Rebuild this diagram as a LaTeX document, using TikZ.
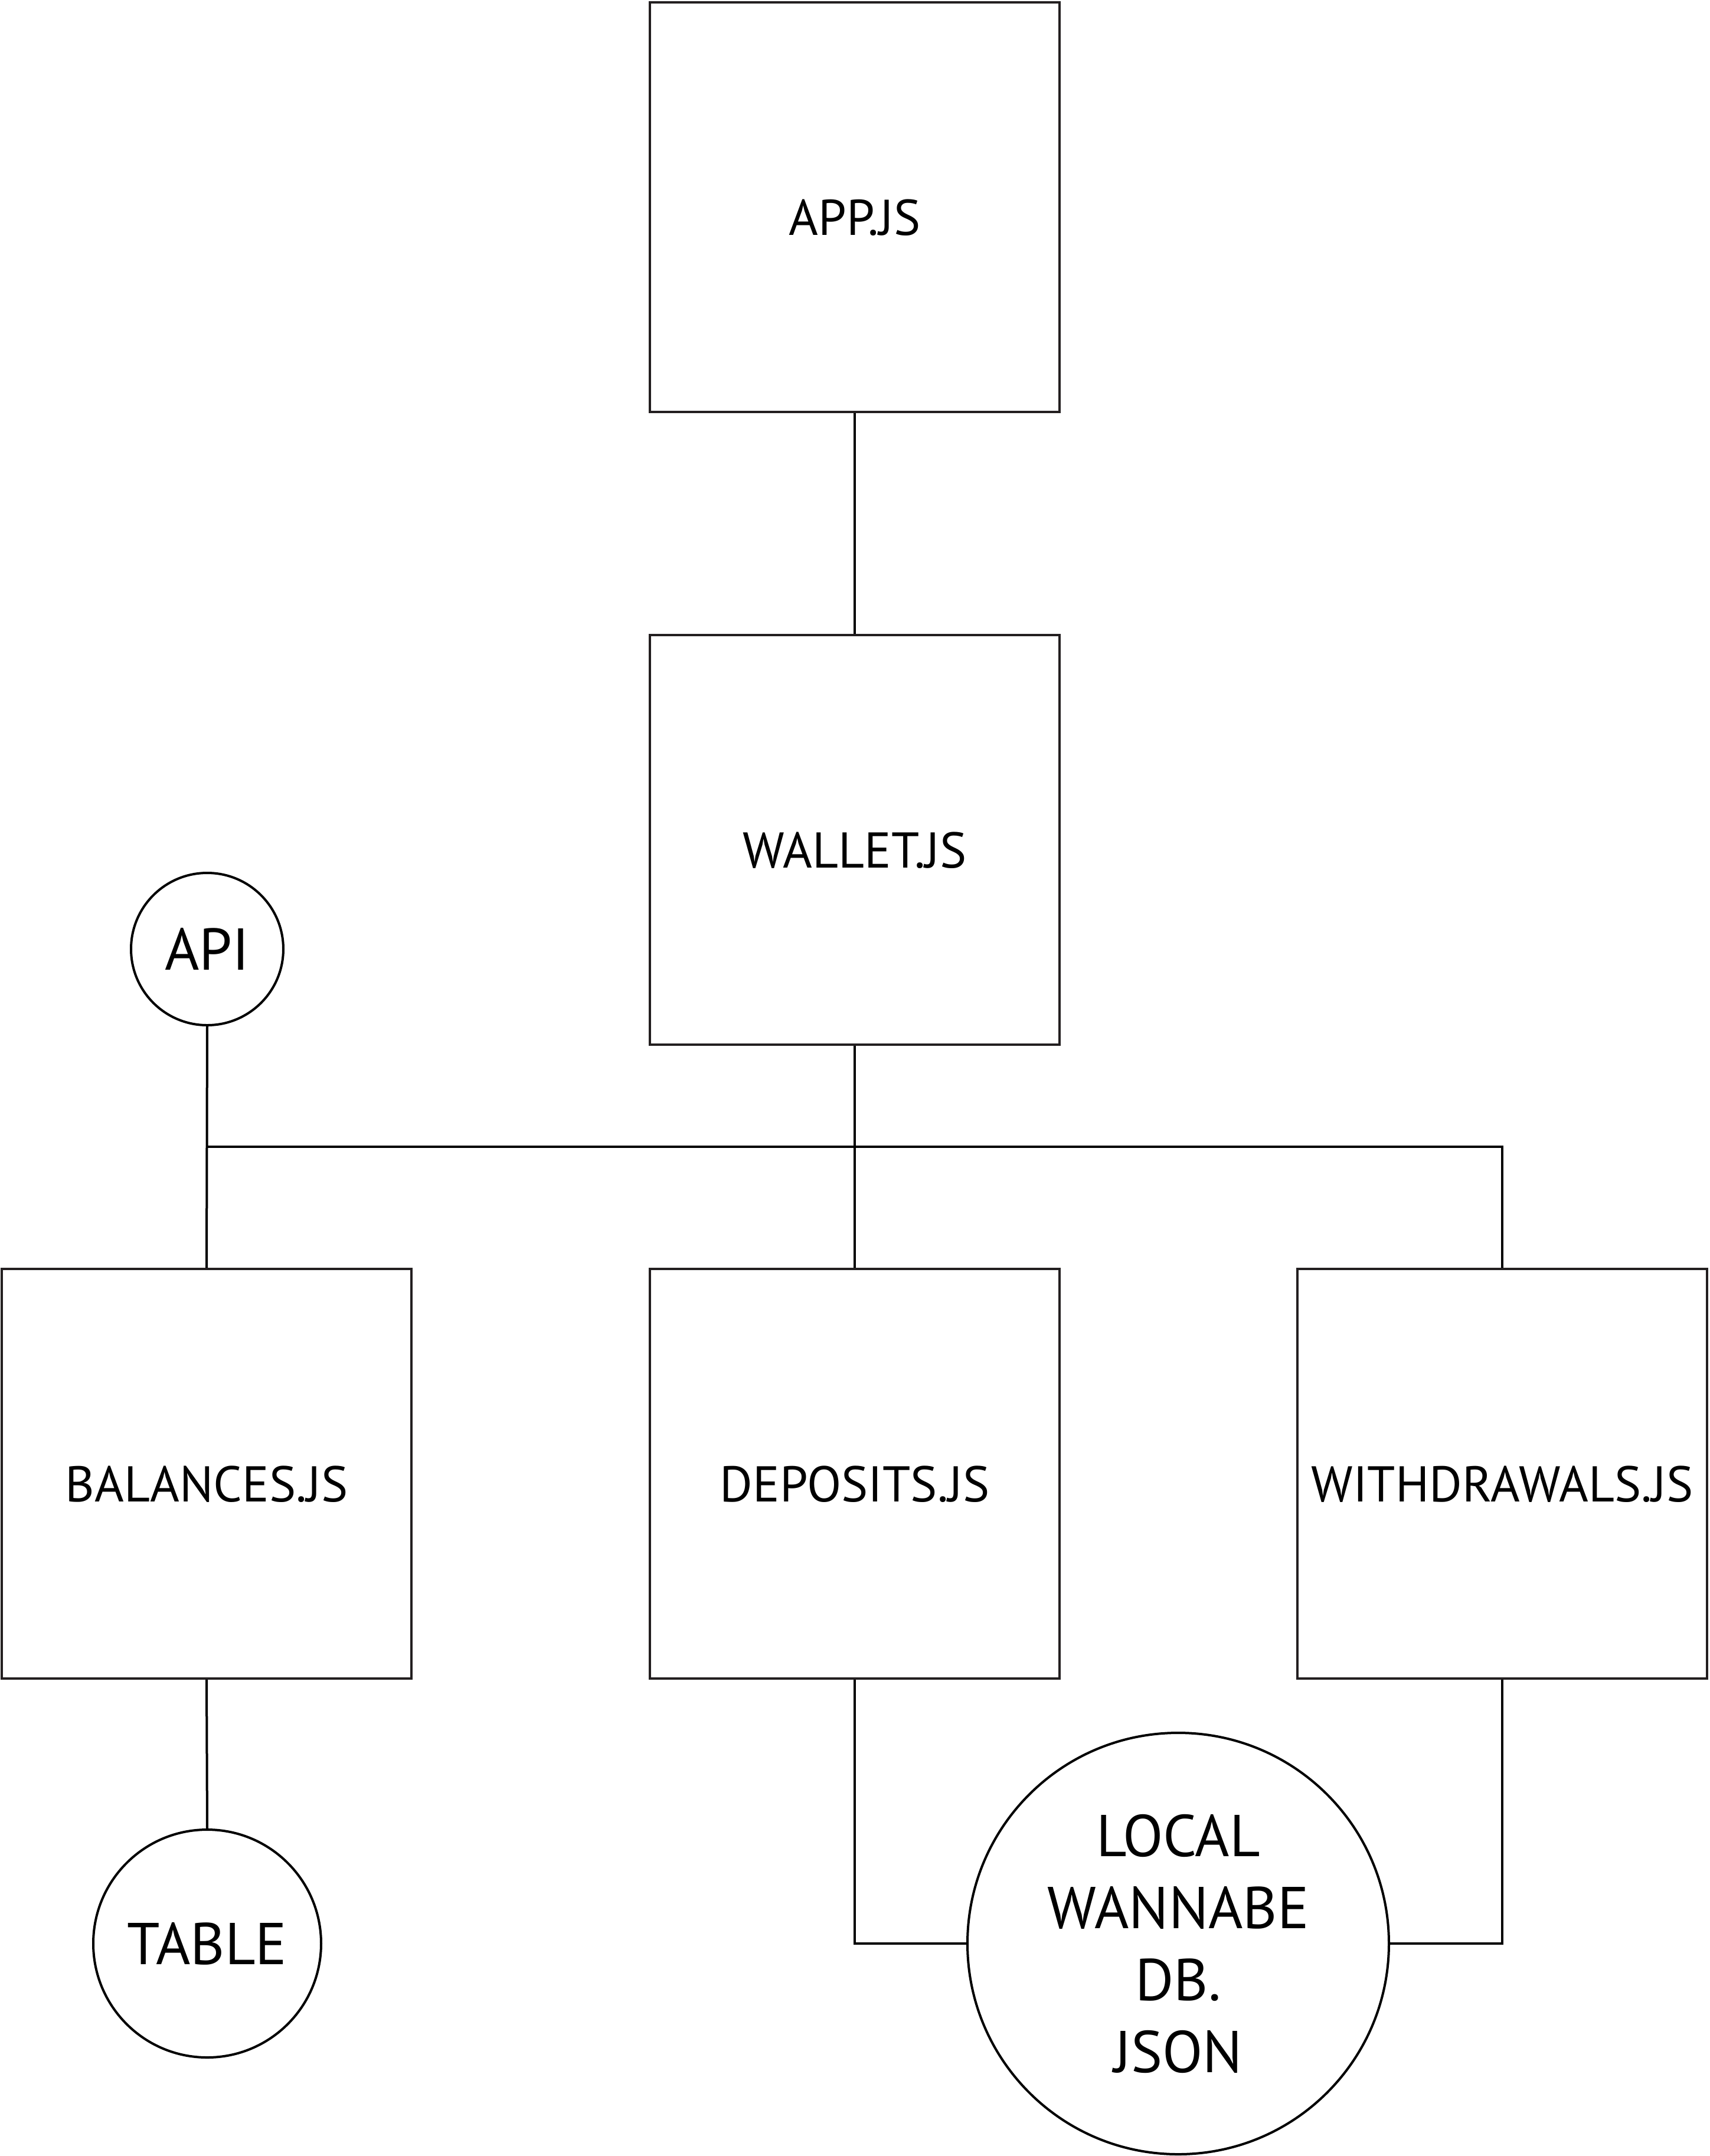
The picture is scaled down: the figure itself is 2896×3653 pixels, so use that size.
\documentclass[tikz,border=0pt]{standalone}
\usepackage{fontspec}
\setmainfont{PT Sans}
\definecolor{boxline}{HTML}{231F20}
\newcommand{\boxlabel}[1]{\raisebox{-4.3pt}[\height][\depth]{#1}}
\begin{document}
\begin{tikzpicture}[x=0.25pt,y=-0.25pt,
  filebox/.style={draw=boxline,line width=1pt,minimum width=173.5pt,minimum height=173.5pt,inner sep=0pt,font=\fontsize{21.3}{25}\selectfont},
  store/.style={draw=black,circle,line width=1pt,inner sep=0pt,align=center,font=\fontsize{25}{30.5}\selectfont},
  link/.style={draw=black,line width=1pt}]
\useasboundingbox (0,0) rectangle (2896,3653);
\fill[white] (0,0) rectangle (2896,3653);
\node[filebox] (app) at (1448,351) {\boxlabel{APP.JS}};
\node[filebox] (wallet) at (1448,1423) {\boxlabel{WALLET.JS}};
\node[filebox] (balances) at (350,2497) {\boxlabel{BALANCES.JS}};
\node[filebox] (deposits) at (1448,2497) {\boxlabel{DEPOSITS.JS}};
\node[filebox] (withdrawals) at (2545,2497) {\boxlabel{WITHDRAWALS.JS}};
\node[store,minimum size=64.5pt] (api) at (351,1608) {API};
\node[store,minimum size=96.5pt] (table) at (351,3293) {TABLE};
\node[store,minimum size=178.5pt] (db) at (1996,3293) {LOCAL\\WANNABE\\DB.\\JSON};
\coordinate (bus) at (0,1943);
\draw[link] (app.south) -- (wallet.north);
\draw[link] (wallet.south) -- (deposits.north);
\draw[link] (api.south) -- (balances.north);
\draw[link] (api.south |- bus) -- (withdrawals.north |- bus) -- (withdrawals.north);
\draw[link] (balances.south) -- (table.north);
\draw[link] (deposits.south) |- (db.west);
\draw[link] (withdrawals.south) |- (db.east);
\end{tikzpicture}
\end{document}
